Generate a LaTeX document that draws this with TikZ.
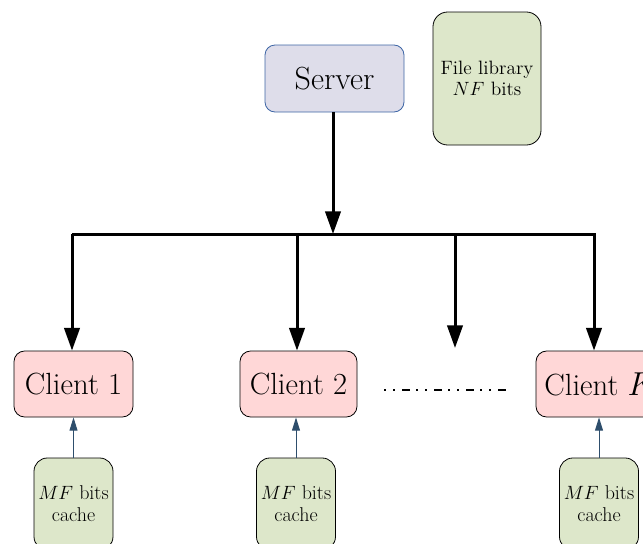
\documentclass[tikz,border=0pt]{standalone}
\usetikzlibrary{arrows.meta}
\definecolor{serverfill}{HTML}{DEDDEA}
\definecolor{serverdraw}{HTML}{3D65A5}
\definecolor{clientfill}{HTML}{FFD7D7}
\definecolor{cachefill}{HTML}{DDE7CA}
\definecolor{smallarrow}{HTML}{2E4E6C}
\tikzset{
  serverbox/.style={draw=serverdraw, fill=serverfill, rounded corners=7.5pt, line width=0.6pt,
    minimum width=104.25pt, minimum height=50.25pt, inner sep=0pt, font=\fontsize{24}{27}\selectfont},
  libbox/.style={draw=black, fill=cachefill, rounded corners=11pt, line width=0.6pt,
    minimum width=81pt, minimum height=99.75pt, inner sep=0pt, align=center,
    font=\fontsize{14.5}{16}\selectfont},
  clientbox/.style={draw=black, fill=clientfill, rounded corners=8pt, line width=0.6pt,
    minimum height=49.5pt, inner sep=0pt, font=\fontsize{23}{26}\selectfont},
  cachebox/.style={draw=black, fill=cachefill, rounded corners=10pt, line width=0.6pt,
    minimum width=59.25pt, minimum height=69pt, inner sep=0pt, align=center,
    font=\fontsize{15}{16.5}\selectfont},
  bigarrow/.style={line width=2.25pt, -{Triangle[length=17pt,width=11.5pt]}},
  busline/.style={line width=2.25pt},
  cachearrow/.style={draw=smallarrow, line width=0.75pt, -{Triangle[length=10pt,width=6pt]}},
  dotsline/.style={line width=1.8pt, dash pattern=on 1.8pt off 5pt on 1.8pt off 5pt on 6pt off 4.4pt},
}
\begin{document}
\begin{tikzpicture}[x=0.75pt,y=-0.75pt]
\useasboundingbox (0,0) rectangle (643,543);
\clip (0,0) rectangle (643,543);
% server and library
\node[serverbox] (server) at (334.5,78.5) {Server};
\node[libbox] (lib) at (487,78.5) {File library\\$NF$ bits};
% bus
\coordinate (busL) at (72,234);
\coordinate (busR) at (596,234);
\coordinate (busC) at (333,234);
\coordinate (b2) at (297,234);
\coordinate (b3) at (455,234);
\coordinate (b4) at (594,234);
\draw[busline] (busL) -- (busR);
% clients
\node[clientbox, minimum width=89.25pt] (c1) at (73.5,384) {Client 1};
\node[clientbox, minimum width=87.75pt] (c2) at (298.5,384) {Client 2};
\node[clientbox, minimum width=97.5pt] (cK) at (601,384) {Client $K$};
\coordinate (t3) at (455,348);
% arrows
\draw[bigarrow] (server.south -| busC) -- (busC);
\draw[bigarrow] (busL) -- (busL |- c1.north);
\draw[bigarrow] (b2) -- (b2 |- c2.north);
\draw[bigarrow] (b3) -- (t3);
\draw[bigarrow] (b4) -- (b4 |- cK.north);
% dots
\coordinate (d1) at (384,390);
\coordinate (d2) at (510,390);
\draw[dotsline] (d1) -- (d2);
% caches
\node[cachebox] (k1) at (73.5,504) {$MF$ bits\\cache};
\node[cachebox] (k2) at (296,504) {$MF$ bits\\cache};
\node[cachebox] (kK) at (599,504) {$MF$ bits\\cache};
\draw[cachearrow] (k1.north) -- (k1.north |- c1.south);
\draw[cachearrow] (k2.north) -- (k2.north |- c2.south);
\draw[cachearrow] (kK.north) -- (kK.north |- cK.south);
\end{tikzpicture}
\end{document}
